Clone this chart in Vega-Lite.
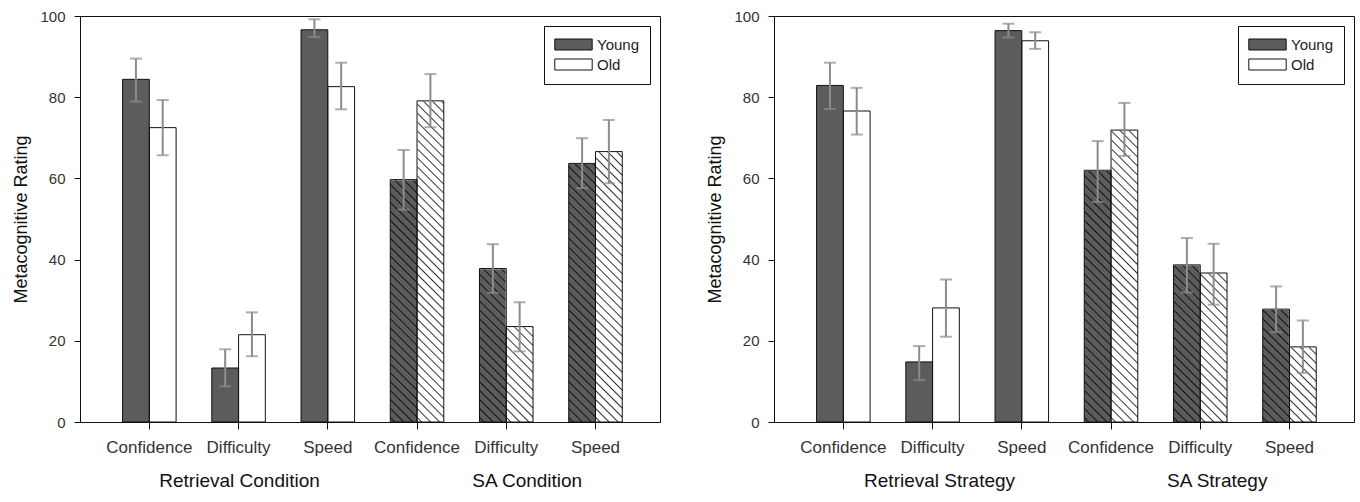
{
  "$schema": "https://vega.github.io/schema/vega-lite/v6.json",
  "padding": {"left": 12, "top": 8, "right": 5, "bottom": 0},
  "spacing": 45,
  "datasets": {
    "condition": [
      {"set": "R", "cat": "Retrieval Condition|Confidence", "age": "Young", "mean": 84.4, "lo": 78.9, "hi": 89.5},
      {"set": "R", "cat": "Retrieval Condition|Confidence", "age": "Old", "mean": 72.5, "lo": 65.7, "hi": 79.3},
      {"set": "R", "cat": "Retrieval Condition|Difficulty", "age": "Young", "mean": 13.3, "lo": 8.8, "hi": 17.9},
      {"set": "R", "cat": "Retrieval Condition|Difficulty", "age": "Old", "mean": 21.5, "lo": 16.2, "hi": 27.0},
      {"set": "R", "cat": "Retrieval Condition|Speed", "age": "Young", "mean": 96.6, "lo": 94.8, "hi": 99.2},
      {"set": "R", "cat": "Retrieval Condition|Speed", "age": "Old", "mean": 82.6, "lo": 77.0, "hi": 88.5},
      {"set": "SA", "cat": "SA Condition|Confidence", "age": "Young", "mean": 59.7, "lo": 52.3, "hi": 67.0},
      {"set": "SA", "cat": "SA Condition|Confidence", "age": "Old", "mean": 79.1, "lo": 72.6, "hi": 85.7},
      {"set": "SA", "cat": "SA Condition|Difficulty", "age": "Young", "mean": 37.8, "lo": 31.8, "hi": 43.8},
      {"set": "SA", "cat": "SA Condition|Difficulty", "age": "Old", "mean": 23.5, "lo": 17.4, "hi": 29.5},
      {"set": "SA", "cat": "SA Condition|Speed", "age": "Young", "mean": 63.7, "lo": 57.6, "hi": 69.9},
      {"set": "SA", "cat": "SA Condition|Speed", "age": "Old", "mean": 66.6, "lo": 58.8, "hi": 74.4}
    ],
    "strategy": [
      {"set": "R", "cat": "Retrieval Strategy|Confidence", "age": "Young", "mean": 82.9, "lo": 77.1, "hi": 88.5},
      {"set": "R", "cat": "Retrieval Strategy|Confidence", "age": "Old", "mean": 76.6, "lo": 70.8, "hi": 82.3},
      {"set": "R", "cat": "Retrieval Strategy|Difficulty", "age": "Young", "mean": 14.8, "lo": 10.3, "hi": 18.7},
      {"set": "R", "cat": "Retrieval Strategy|Difficulty", "age": "Old", "mean": 28.1, "lo": 21.0, "hi": 35.1},
      {"set": "R", "cat": "Retrieval Strategy|Speed", "age": "Young", "mean": 96.4, "lo": 94.7, "hi": 98.1},
      {"set": "R", "cat": "Retrieval Strategy|Speed", "age": "Old", "mean": 93.9, "lo": 91.9, "hi": 96.0},
      {"set": "SA", "cat": "SA Strategy|Confidence", "age": "Young", "mean": 62.0, "lo": 54.2, "hi": 69.2},
      {"set": "SA", "cat": "SA Strategy|Confidence", "age": "Old", "mean": 71.9, "lo": 65.5, "hi": 78.6},
      {"set": "SA", "cat": "SA Strategy|Difficulty", "age": "Young", "mean": 38.7, "lo": 31.9, "hi": 45.3},
      {"set": "SA", "cat": "SA Strategy|Difficulty", "age": "Old", "mean": 36.7, "lo": 28.9, "hi": 43.9},
      {"set": "SA", "cat": "SA Strategy|Speed", "age": "Young", "mean": 27.8, "lo": 22.1, "hi": 33.4},
      {"set": "SA", "cat": "SA Strategy|Speed", "age": "Old", "mean": 18.5, "lo": 12.1, "hi": 25.0}
    ]
  },
  "hconcat": [
    {
      "data": {"name": "condition"},
      "width": 580,
      "height": 406,
      "encoding": {
        "x": {"field": "cat", "type": "nominal", "sort": ["Retrieval Condition|Confidence", "Retrieval Condition|Difficulty", "Retrieval Condition|Speed", "SA Condition|Confidence", "SA Condition|Difficulty", "SA Condition|Speed"], "scale": {"paddingInner": 0.4, "paddingOuter": 0.45, "align": 0.53}, "axis": null},
        "xOffset": {"field": "age", "type": "nominal", "sort": ["Young", "Old"], "scale": {"paddingInner": 0, "paddingOuter": 0}}
      },
      "layer": [
        {
          "mark": {"type": "bar", "strokeWidth": 0},
          "encoding": {
            "x": {"field": "cat", "type": "nominal", "sort": ["Retrieval Condition|Confidence", "Retrieval Condition|Difficulty", "Retrieval Condition|Speed", "SA Condition|Confidence", "SA Condition|Difficulty", "SA Condition|Speed"], "scale": {"paddingInner": 0.4, "paddingOuter": 0.45, "align": 0.53},
              "axis": {"orient": "bottom", "title": null, "labelExpr": "split(datum.value, '|')[1]", "labelAngle": 0, "labelFontSize": 17, "labelColor": "#333", "labelPadding": 10, "tickSize": 7, "domainColor": "#111", "tickColor": "#111"}},
            "y": {"field": "mean", "type": "quantitative", "scale": {"domain": [0, 100], "nice": false},
              "axis": {"title": "Metacognitive Rating", "values": [0, 20, 40, 60, 80, 100], "labelFontSize": 15, "labelColor": "#333", "labelPadding": 9, "tickSize": 6, "domainColor": "#111", "tickColor": "#111", "titleFontSize": 18, "titleFontWeight": "normal", "titleColor": "#111", "titlePadding": 9}},
            "fill": {"field": "age", "type": "nominal", "sort": ["Young", "Old"], "scale": {"domain": ["Young", "Old"], "range": ["#5c5c5c", "#ffffff"]},
              "legend": {"title": "\u2002", "titleOrient": "right", "titlePadding": 0, "titleFontSize": 15, "orient": "top-right", "offset": 10, "padding": 11, "strokeColor": "#111", "fillColor": "white", "symbolType": "M-3.4,-1H3.4V1H-3.4Z", "symbolSize": 121, "symbolStrokeColor": "#111", "symbolStrokeWidth": 1, "symbolOpacity": 1, "symbolOffset": 11, "labelOffset": 16, "labelFontSize": 15, "labelColor": "#222", "rowPadding": 4}}
          }
        },
        {
          "transform": [{"filter": "datum.set === 'SA'"}],
          "mark": {"type": "bar", "strokeWidth": 0, "fill": {
            "gradient": "linear", "x1": 1, "y1": 0, "x2": 0.93, "y2": 1.061,
            "stops": [
              {"offset": 0.0071, "color": "rgba(0,0,0,0)"}, {"offset": 0.0104, "color": "rgba(0,0,0,0.8)"}, {"offset": 0.0137, "color": "rgba(0,0,0,0)"},
              {"offset": 0.0280, "color": "rgba(0,0,0,0)"}, {"offset": 0.0313, "color": "rgba(0,0,0,0.8)"}, {"offset": 0.0346, "color": "rgba(0,0,0,0)"},
              {"offset": 0.0488, "color": "rgba(0,0,0,0)"}, {"offset": 0.0521, "color": "rgba(0,0,0,0.8)"}, {"offset": 0.0554, "color": "rgba(0,0,0,0)"},
              {"offset": 0.0696, "color": "rgba(0,0,0,0)"}, {"offset": 0.0729, "color": "rgba(0,0,0,0.8)"}, {"offset": 0.0762, "color": "rgba(0,0,0,0)"},
              {"offset": 0.0905, "color": "rgba(0,0,0,0)"}, {"offset": 0.0938, "color": "rgba(0,0,0,0.8)"}, {"offset": 0.0971, "color": "rgba(0,0,0,0)"},
              {"offset": 0.1113, "color": "rgba(0,0,0,0)"}, {"offset": 0.1146, "color": "rgba(0,0,0,0.8)"}, {"offset": 0.1179, "color": "rgba(0,0,0,0)"},
              {"offset": 0.1321, "color": "rgba(0,0,0,0)"}, {"offset": 0.1354, "color": "rgba(0,0,0,0.8)"}, {"offset": 0.1387, "color": "rgba(0,0,0,0)"},
              {"offset": 0.1530, "color": "rgba(0,0,0,0)"}, {"offset": 0.1563, "color": "rgba(0,0,0,0.8)"}, {"offset": 0.1596, "color": "rgba(0,0,0,0)"},
              {"offset": 0.1738, "color": "rgba(0,0,0,0)"}, {"offset": 0.1771, "color": "rgba(0,0,0,0.8)"}, {"offset": 0.1804, "color": "rgba(0,0,0,0)"},
              {"offset": 0.1946, "color": "rgba(0,0,0,0)"}, {"offset": 0.1979, "color": "rgba(0,0,0,0.8)"}, {"offset": 0.2012, "color": "rgba(0,0,0,0)"},
              {"offset": 0.2155, "color": "rgba(0,0,0,0)"}, {"offset": 0.2188, "color": "rgba(0,0,0,0.8)"}, {"offset": 0.2221, "color": "rgba(0,0,0,0)"},
              {"offset": 0.2363, "color": "rgba(0,0,0,0)"}, {"offset": 0.2396, "color": "rgba(0,0,0,0.8)"}, {"offset": 0.2429, "color": "rgba(0,0,0,0)"},
              {"offset": 0.2571, "color": "rgba(0,0,0,0)"}, {"offset": 0.2604, "color": "rgba(0,0,0,0.8)"}, {"offset": 0.2637, "color": "rgba(0,0,0,0)"},
              {"offset": 0.2780, "color": "rgba(0,0,0,0)"}, {"offset": 0.2813, "color": "rgba(0,0,0,0.8)"}, {"offset": 0.2846, "color": "rgba(0,0,0,0)"},
              {"offset": 0.2988, "color": "rgba(0,0,0,0)"}, {"offset": 0.3021, "color": "rgba(0,0,0,0.8)"}, {"offset": 0.3054, "color": "rgba(0,0,0,0)"},
              {"offset": 0.3196, "color": "rgba(0,0,0,0)"}, {"offset": 0.3229, "color": "rgba(0,0,0,0.8)"}, {"offset": 0.3262, "color": "rgba(0,0,0,0)"},
              {"offset": 0.3405, "color": "rgba(0,0,0,0)"}, {"offset": 0.3438, "color": "rgba(0,0,0,0.8)"}, {"offset": 0.3471, "color": "rgba(0,0,0,0)"},
              {"offset": 0.3613, "color": "rgba(0,0,0,0)"}, {"offset": 0.3646, "color": "rgba(0,0,0,0.8)"}, {"offset": 0.3679, "color": "rgba(0,0,0,0)"},
              {"offset": 0.3821, "color": "rgba(0,0,0,0)"}, {"offset": 0.3854, "color": "rgba(0,0,0,0.8)"}, {"offset": 0.3887, "color": "rgba(0,0,0,0)"},
              {"offset": 0.4030, "color": "rgba(0,0,0,0)"}, {"offset": 0.4063, "color": "rgba(0,0,0,0.8)"}, {"offset": 0.4096, "color": "rgba(0,0,0,0)"},
              {"offset": 0.4238, "color": "rgba(0,0,0,0)"}, {"offset": 0.4271, "color": "rgba(0,0,0,0.8)"}, {"offset": 0.4304, "color": "rgba(0,0,0,0)"},
              {"offset": 0.4446, "color": "rgba(0,0,0,0)"}, {"offset": 0.4479, "color": "rgba(0,0,0,0.8)"}, {"offset": 0.4512, "color": "rgba(0,0,0,0)"},
              {"offset": 0.4655, "color": "rgba(0,0,0,0)"}, {"offset": 0.4688, "color": "rgba(0,0,0,0.8)"}, {"offset": 0.4721, "color": "rgba(0,0,0,0)"},
              {"offset": 0.4863, "color": "rgba(0,0,0,0)"}, {"offset": 0.4896, "color": "rgba(0,0,0,0.8)"}, {"offset": 0.4929, "color": "rgba(0,0,0,0)"},
              {"offset": 0.5071, "color": "rgba(0,0,0,0)"}, {"offset": 0.5104, "color": "rgba(0,0,0,0.8)"}, {"offset": 0.5137, "color": "rgba(0,0,0,0)"},
              {"offset": 0.5280, "color": "rgba(0,0,0,0)"}, {"offset": 0.5313, "color": "rgba(0,0,0,0.8)"}, {"offset": 0.5346, "color": "rgba(0,0,0,0)"},
              {"offset": 0.5488, "color": "rgba(0,0,0,0)"}, {"offset": 0.5521, "color": "rgba(0,0,0,0.8)"}, {"offset": 0.5554, "color": "rgba(0,0,0,0)"},
              {"offset": 0.5696, "color": "rgba(0,0,0,0)"}, {"offset": 0.5729, "color": "rgba(0,0,0,0.8)"}, {"offset": 0.5762, "color": "rgba(0,0,0,0)"},
              {"offset": 0.5905, "color": "rgba(0,0,0,0)"}, {"offset": 0.5938, "color": "rgba(0,0,0,0.8)"}, {"offset": 0.5971, "color": "rgba(0,0,0,0)"},
              {"offset": 0.6113, "color": "rgba(0,0,0,0)"}, {"offset": 0.6146, "color": "rgba(0,0,0,0.8)"}, {"offset": 0.6179, "color": "rgba(0,0,0,0)"},
              {"offset": 0.6321, "color": "rgba(0,0,0,0)"}, {"offset": 0.6354, "color": "rgba(0,0,0,0.8)"}, {"offset": 0.6387, "color": "rgba(0,0,0,0)"},
              {"offset": 0.6530, "color": "rgba(0,0,0,0)"}, {"offset": 0.6563, "color": "rgba(0,0,0,0.8)"}, {"offset": 0.6596, "color": "rgba(0,0,0,0)"},
              {"offset": 0.6738, "color": "rgba(0,0,0,0)"}, {"offset": 0.6771, "color": "rgba(0,0,0,0.8)"}, {"offset": 0.6804, "color": "rgba(0,0,0,0)"},
              {"offset": 0.6946, "color": "rgba(0,0,0,0)"}, {"offset": 0.6979, "color": "rgba(0,0,0,0.8)"}, {"offset": 0.7012, "color": "rgba(0,0,0,0)"},
              {"offset": 0.7155, "color": "rgba(0,0,0,0)"}, {"offset": 0.7188, "color": "rgba(0,0,0,0.8)"}, {"offset": 0.7221, "color": "rgba(0,0,0,0)"},
              {"offset": 0.7363, "color": "rgba(0,0,0,0)"}, {"offset": 0.7396, "color": "rgba(0,0,0,0.8)"}, {"offset": 0.7429, "color": "rgba(0,0,0,0)"},
              {"offset": 0.7571, "color": "rgba(0,0,0,0)"}, {"offset": 0.7604, "color": "rgba(0,0,0,0.8)"}, {"offset": 0.7637, "color": "rgba(0,0,0,0)"},
              {"offset": 0.7780, "color": "rgba(0,0,0,0)"}, {"offset": 0.7813, "color": "rgba(0,0,0,0.8)"}, {"offset": 0.7846, "color": "rgba(0,0,0,0)"},
              {"offset": 0.7988, "color": "rgba(0,0,0,0)"}, {"offset": 0.8021, "color": "rgba(0,0,0,0.8)"}, {"offset": 0.8054, "color": "rgba(0,0,0,0)"},
              {"offset": 0.8196, "color": "rgba(0,0,0,0)"}, {"offset": 0.8229, "color": "rgba(0,0,0,0.8)"}, {"offset": 0.8262, "color": "rgba(0,0,0,0)"},
              {"offset": 0.8405, "color": "rgba(0,0,0,0)"}, {"offset": 0.8438, "color": "rgba(0,0,0,0.8)"}, {"offset": 0.8471, "color": "rgba(0,0,0,0)"},
              {"offset": 0.8613, "color": "rgba(0,0,0,0)"}, {"offset": 0.8646, "color": "rgba(0,0,0,0.8)"}, {"offset": 0.8679, "color": "rgba(0,0,0,0)"},
              {"offset": 0.8821, "color": "rgba(0,0,0,0)"}, {"offset": 0.8854, "color": "rgba(0,0,0,0.8)"}, {"offset": 0.8887, "color": "rgba(0,0,0,0)"},
              {"offset": 0.9030, "color": "rgba(0,0,0,0)"}, {"offset": 0.9063, "color": "rgba(0,0,0,0.8)"}, {"offset": 0.9096, "color": "rgba(0,0,0,0)"},
              {"offset": 0.9238, "color": "rgba(0,0,0,0)"}, {"offset": 0.9271, "color": "rgba(0,0,0,0.8)"}, {"offset": 0.9304, "color": "rgba(0,0,0,0)"},
              {"offset": 0.9446, "color": "rgba(0,0,0,0)"}, {"offset": 0.9479, "color": "rgba(0,0,0,0.8)"}, {"offset": 0.9512, "color": "rgba(0,0,0,0)"},
              {"offset": 0.9655, "color": "rgba(0,0,0,0)"}, {"offset": 0.9688, "color": "rgba(0,0,0,0.8)"}, {"offset": 0.9721, "color": "rgba(0,0,0,0)"},
              {"offset": 0.9863, "color": "rgba(0,0,0,0)"}, {"offset": 0.9896, "color": "rgba(0,0,0,0.8)"}, {"offset": 0.9929, "color": "rgba(0,0,0,0)"}
            ]}},
          "encoding": {"y": {"datum": 99.4, "type": "quantitative"}, "y2": {"datum": 0}}
        },
        {
          "transform": [{"filter": "datum.set === 'SA'"}],
          "mark": {"type": "bar", "fill": "white", "stroke": "white", "strokeWidth": 1.2},
          "encoding": {"y": {"field": "mean", "type": "quantitative"}, "y2": {"datum": 99.4}}
        },
        {
          "mark": {"type": "bar", "fillOpacity": 0, "stroke": "#111", "strokeWidth": 1},
          "encoding": {"y": {"field": "mean", "type": "quantitative"}}
        },
        {
          "mark": {"type": "rule", "color": "#8c8c8c", "strokeWidth": 2},
          "encoding": {
            "x": {"field": "cat", "type": "nominal", "sort": ["Retrieval Condition|Confidence", "Retrieval Condition|Difficulty", "Retrieval Condition|Speed", "SA Condition|Confidence", "SA Condition|Difficulty", "SA Condition|Speed"], "scale": {"paddingInner": 0.4, "paddingOuter": 0.45, "align": 0.53},
              "axis": {"orient": "bottom", "title": null, "domain": false, "ticks": false, "labelExpr": "split(datum.value, '|')[1] === 'Difficulty' ? split(datum.value, '|')[0] : ''", "labelAngle": 0, "labelFontSize": 19, "labelColor": "#111", "labelPadding": 49, "labelOverlap": false, "labelBound": false, "labelLimit": 0, "labelOffset": {"condition": {"test": "indexof(datum.value, 'SA') === 0", "value": 21}, "value": 1}}},
            "y": {"field": "lo", "type": "quantitative"},
            "y2": {"field": "hi"}
          }
        },
        {
          "mark": {"type": "tick", "color": "#8c8c8c", "thickness": 2, "size": 12},
          "encoding": {"y": {"field": "lo", "type": "quantitative"}}
        },
        {
          "mark": {"type": "tick", "color": "#8c8c8c", "thickness": 2, "size": 12},
          "encoding": {"y": {"field": "hi", "type": "quantitative"}}
        }
      ],
      "resolve": {"axis": {"x": "independent"}}
    },
    {
      "data": {"name": "strategy"},
      "width": 580,
      "height": 406,
      "encoding": {
        "x": {"field": "cat", "type": "nominal", "sort": ["Retrieval Strategy|Confidence", "Retrieval Strategy|Difficulty", "Retrieval Strategy|Speed", "SA Strategy|Confidence", "SA Strategy|Difficulty", "SA Strategy|Speed"], "scale": {"paddingInner": 0.4, "paddingOuter": 0.45, "align": 0.53}, "axis": null},
        "xOffset": {"field": "age", "type": "nominal", "sort": ["Young", "Old"], "scale": {"paddingInner": 0, "paddingOuter": 0}}
      },
      "layer": [
        {
          "mark": {"type": "bar", "strokeWidth": 0},
          "encoding": {
            "x": {"field": "cat", "type": "nominal", "sort": ["Retrieval Strategy|Confidence", "Retrieval Strategy|Difficulty", "Retrieval Strategy|Speed", "SA Strategy|Confidence", "SA Strategy|Difficulty", "SA Strategy|Speed"], "scale": {"paddingInner": 0.4, "paddingOuter": 0.45, "align": 0.53},
              "axis": {"orient": "bottom", "title": null, "labelExpr": "split(datum.value, '|')[1]", "labelAngle": 0, "labelFontSize": 17, "labelColor": "#333", "labelPadding": 10, "tickSize": 7, "domainColor": "#111", "tickColor": "#111"}},
            "y": {"field": "mean", "type": "quantitative", "scale": {"domain": [0, 100], "nice": false},
              "axis": {"title": "Metacognitive Rating", "values": [0, 20, 40, 60, 80, 100], "labelFontSize": 15, "labelColor": "#333", "labelPadding": 9, "tickSize": 6, "domainColor": "#111", "tickColor": "#111", "titleFontSize": 18, "titleFontWeight": "normal", "titleColor": "#111", "titlePadding": 9}},
            "fill": {"field": "age", "type": "nominal", "sort": ["Young", "Old"], "scale": {"domain": ["Young", "Old"], "range": ["#5c5c5c", "#ffffff"]},
              "legend": {"title": "\u2002", "titleOrient": "right", "titlePadding": 0, "titleFontSize": 15, "orient": "top-right", "offset": 10, "padding": 11, "strokeColor": "#111", "fillColor": "white", "symbolType": "M-3.4,-1H3.4V1H-3.4Z", "symbolSize": 121, "symbolStrokeColor": "#111", "symbolStrokeWidth": 1, "symbolOpacity": 1, "symbolOffset": 11, "labelOffset": 16, "labelFontSize": 15, "labelColor": "#222", "rowPadding": 4}}
          }
        },
        {
          "transform": [{"filter": "datum.set === 'SA'"}],
          "mark": {"type": "bar", "strokeWidth": 0, "fill": {
            "gradient": "linear", "x1": 1, "y1": 0, "x2": 0.93, "y2": 1.061,
            "stops": [
              {"offset": 0.0071, "color": "rgba(0,0,0,0)"}, {"offset": 0.0104, "color": "rgba(0,0,0,0.8)"}, {"offset": 0.0137, "color": "rgba(0,0,0,0)"},
              {"offset": 0.0280, "color": "rgba(0,0,0,0)"}, {"offset": 0.0313, "color": "rgba(0,0,0,0.8)"}, {"offset": 0.0346, "color": "rgba(0,0,0,0)"},
              {"offset": 0.0488, "color": "rgba(0,0,0,0)"}, {"offset": 0.0521, "color": "rgba(0,0,0,0.8)"}, {"offset": 0.0554, "color": "rgba(0,0,0,0)"},
              {"offset": 0.0696, "color": "rgba(0,0,0,0)"}, {"offset": 0.0729, "color": "rgba(0,0,0,0.8)"}, {"offset": 0.0762, "color": "rgba(0,0,0,0)"},
              {"offset": 0.0905, "color": "rgba(0,0,0,0)"}, {"offset": 0.0938, "color": "rgba(0,0,0,0.8)"}, {"offset": 0.0971, "color": "rgba(0,0,0,0)"},
              {"offset": 0.1113, "color": "rgba(0,0,0,0)"}, {"offset": 0.1146, "color": "rgba(0,0,0,0.8)"}, {"offset": 0.1179, "color": "rgba(0,0,0,0)"},
              {"offset": 0.1321, "color": "rgba(0,0,0,0)"}, {"offset": 0.1354, "color": "rgba(0,0,0,0.8)"}, {"offset": 0.1387, "color": "rgba(0,0,0,0)"},
              {"offset": 0.1530, "color": "rgba(0,0,0,0)"}, {"offset": 0.1563, "color": "rgba(0,0,0,0.8)"}, {"offset": 0.1596, "color": "rgba(0,0,0,0)"},
              {"offset": 0.1738, "color": "rgba(0,0,0,0)"}, {"offset": 0.1771, "color": "rgba(0,0,0,0.8)"}, {"offset": 0.1804, "color": "rgba(0,0,0,0)"},
              {"offset": 0.1946, "color": "rgba(0,0,0,0)"}, {"offset": 0.1979, "color": "rgba(0,0,0,0.8)"}, {"offset": 0.2012, "color": "rgba(0,0,0,0)"},
              {"offset": 0.2155, "color": "rgba(0,0,0,0)"}, {"offset": 0.2188, "color": "rgba(0,0,0,0.8)"}, {"offset": 0.2221, "color": "rgba(0,0,0,0)"},
              {"offset": 0.2363, "color": "rgba(0,0,0,0)"}, {"offset": 0.2396, "color": "rgba(0,0,0,0.8)"}, {"offset": 0.2429, "color": "rgba(0,0,0,0)"},
              {"offset": 0.2571, "color": "rgba(0,0,0,0)"}, {"offset": 0.2604, "color": "rgba(0,0,0,0.8)"}, {"offset": 0.2637, "color": "rgba(0,0,0,0)"},
              {"offset": 0.2780, "color": "rgba(0,0,0,0)"}, {"offset": 0.2813, "color": "rgba(0,0,0,0.8)"}, {"offset": 0.2846, "color": "rgba(0,0,0,0)"},
              {"offset": 0.2988, "color": "rgba(0,0,0,0)"}, {"offset": 0.3021, "color": "rgba(0,0,0,0.8)"}, {"offset": 0.3054, "color": "rgba(0,0,0,0)"},
              {"offset": 0.3196, "color": "rgba(0,0,0,0)"}, {"offset": 0.3229, "color": "rgba(0,0,0,0.8)"}, {"offset": 0.3262, "color": "rgba(0,0,0,0)"},
              {"offset": 0.3405, "color": "rgba(0,0,0,0)"}, {"offset": 0.3438, "color": "rgba(0,0,0,0.8)"}, {"offset": 0.3471, "color": "rgba(0,0,0,0)"},
              {"offset": 0.3613, "color": "rgba(0,0,0,0)"}, {"offset": 0.3646, "color": "rgba(0,0,0,0.8)"}, {"offset": 0.3679, "color": "rgba(0,0,0,0)"},
              {"offset": 0.3821, "color": "rgba(0,0,0,0)"}, {"offset": 0.3854, "color": "rgba(0,0,0,0.8)"}, {"offset": 0.3887, "color": "rgba(0,0,0,0)"},
              {"offset": 0.4030, "color": "rgba(0,0,0,0)"}, {"offset": 0.4063, "color": "rgba(0,0,0,0.8)"}, {"offset": 0.4096, "color": "rgba(0,0,0,0)"},
              {"offset": 0.4238, "color": "rgba(0,0,0,0)"}, {"offset": 0.4271, "color": "rgba(0,0,0,0.8)"}, {"offset": 0.4304, "color": "rgba(0,0,0,0)"},
              {"offset": 0.4446, "color": "rgba(0,0,0,0)"}, {"offset": 0.4479, "color": "rgba(0,0,0,0.8)"}, {"offset": 0.4512, "color": "rgba(0,0,0,0)"},
              {"offset": 0.4655, "color": "rgba(0,0,0,0)"}, {"offset": 0.4688, "color": "rgba(0,0,0,0.8)"}, {"offset": 0.4721, "color": "rgba(0,0,0,0)"},
              {"offset": 0.4863, "color": "rgba(0,0,0,0)"}, {"offset": 0.4896, "color": "rgba(0,0,0,0.8)"}, {"offset": 0.4929, "color": "rgba(0,0,0,0)"},
              {"offset": 0.5071, "color": "rgba(0,0,0,0)"}, {"offset": 0.5104, "color": "rgba(0,0,0,0.8)"}, {"offset": 0.5137, "color": "rgba(0,0,0,0)"},
              {"offset": 0.5280, "color": "rgba(0,0,0,0)"}, {"offset": 0.5313, "color": "rgba(0,0,0,0.8)"}, {"offset": 0.5346, "color": "rgba(0,0,0,0)"},
              {"offset": 0.5488, "color": "rgba(0,0,0,0)"}, {"offset": 0.5521, "color": "rgba(0,0,0,0.8)"}, {"offset": 0.5554, "color": "rgba(0,0,0,0)"},
              {"offset": 0.5696, "color": "rgba(0,0,0,0)"}, {"offset": 0.5729, "color": "rgba(0,0,0,0.8)"}, {"offset": 0.5762, "color": "rgba(0,0,0,0)"},
              {"offset": 0.5905, "color": "rgba(0,0,0,0)"}, {"offset": 0.5938, "color": "rgba(0,0,0,0.8)"}, {"offset": 0.5971, "color": "rgba(0,0,0,0)"},
              {"offset": 0.6113, "color": "rgba(0,0,0,0)"}, {"offset": 0.6146, "color": "rgba(0,0,0,0.8)"}, {"offset": 0.6179, "color": "rgba(0,0,0,0)"},
              {"offset": 0.6321, "color": "rgba(0,0,0,0)"}, {"offset": 0.6354, "color": "rgba(0,0,0,0.8)"}, {"offset": 0.6387, "color": "rgba(0,0,0,0)"},
              {"offset": 0.6530, "color": "rgba(0,0,0,0)"}, {"offset": 0.6563, "color": "rgba(0,0,0,0.8)"}, {"offset": 0.6596, "color": "rgba(0,0,0,0)"},
              {"offset": 0.6738, "color": "rgba(0,0,0,0)"}, {"offset": 0.6771, "color": "rgba(0,0,0,0.8)"}, {"offset": 0.6804, "color": "rgba(0,0,0,0)"},
              {"offset": 0.6946, "color": "rgba(0,0,0,0)"}, {"offset": 0.6979, "color": "rgba(0,0,0,0.8)"}, {"offset": 0.7012, "color": "rgba(0,0,0,0)"},
              {"offset": 0.7155, "color": "rgba(0,0,0,0)"}, {"offset": 0.7188, "color": "rgba(0,0,0,0.8)"}, {"offset": 0.7221, "color": "rgba(0,0,0,0)"},
              {"offset": 0.7363, "color": "rgba(0,0,0,0)"}, {"offset": 0.7396, "color": "rgba(0,0,0,0.8)"}, {"offset": 0.7429, "color": "rgba(0,0,0,0)"},
              {"offset": 0.7571, "color": "rgba(0,0,0,0)"}, {"offset": 0.7604, "color": "rgba(0,0,0,0.8)"}, {"offset": 0.7637, "color": "rgba(0,0,0,0)"},
              {"offset": 0.7780, "color": "rgba(0,0,0,0)"}, {"offset": 0.7813, "color": "rgba(0,0,0,0.8)"}, {"offset": 0.7846, "color": "rgba(0,0,0,0)"},
              {"offset": 0.7988, "color": "rgba(0,0,0,0)"}, {"offset": 0.8021, "color": "rgba(0,0,0,0.8)"}, {"offset": 0.8054, "color": "rgba(0,0,0,0)"},
              {"offset": 0.8196, "color": "rgba(0,0,0,0)"}, {"offset": 0.8229, "color": "rgba(0,0,0,0.8)"}, {"offset": 0.8262, "color": "rgba(0,0,0,0)"},
              {"offset": 0.8405, "color": "rgba(0,0,0,0)"}, {"offset": 0.8438, "color": "rgba(0,0,0,0.8)"}, {"offset": 0.8471, "color": "rgba(0,0,0,0)"},
              {"offset": 0.8613, "color": "rgba(0,0,0,0)"}, {"offset": 0.8646, "color": "rgba(0,0,0,0.8)"}, {"offset": 0.8679, "color": "rgba(0,0,0,0)"},
              {"offset": 0.8821, "color": "rgba(0,0,0,0)"}, {"offset": 0.8854, "color": "rgba(0,0,0,0.8)"}, {"offset": 0.8887, "color": "rgba(0,0,0,0)"},
              {"offset": 0.9030, "color": "rgba(0,0,0,0)"}, {"offset": 0.9063, "color": "rgba(0,0,0,0.8)"}, {"offset": 0.9096, "color": "rgba(0,0,0,0)"},
              {"offset": 0.9238, "color": "rgba(0,0,0,0)"}, {"offset": 0.9271, "color": "rgba(0,0,0,0.8)"}, {"offset": 0.9304, "color": "rgba(0,0,0,0)"},
              {"offset": 0.9446, "color": "rgba(0,0,0,0)"}, {"offset": 0.9479, "color": "rgba(0,0,0,0.8)"}, {"offset": 0.9512, "color": "rgba(0,0,0,0)"},
              {"offset": 0.9655, "color": "rgba(0,0,0,0)"}, {"offset": 0.9688, "color": "rgba(0,0,0,0.8)"}, {"offset": 0.9721, "color": "rgba(0,0,0,0)"},
              {"offset": 0.9863, "color": "rgba(0,0,0,0)"}, {"offset": 0.9896, "color": "rgba(0,0,0,0.8)"}, {"offset": 0.9929, "color": "rgba(0,0,0,0)"}
            ]}},
          "encoding": {"y": {"datum": 99.4, "type": "quantitative"}, "y2": {"datum": 0}}
        },
        {
          "transform": [{"filter": "datum.set === 'SA'"}],
          "mark": {"type": "bar", "fill": "white", "stroke": "white", "strokeWidth": 1.2},
          "encoding": {"y": {"field": "mean", "type": "quantitative"}, "y2": {"datum": 99.4}}
        },
        {
          "mark": {"type": "bar", "fillOpacity": 0, "stroke": "#111", "strokeWidth": 1},
          "encoding": {"y": {"field": "mean", "type": "quantitative"}}
        },
        {
          "mark": {"type": "rule", "color": "#8c8c8c", "strokeWidth": 2},
          "encoding": {
            "x": {"field": "cat", "type": "nominal", "sort": ["Retrieval Strategy|Confidence", "Retrieval Strategy|Difficulty", "Retrieval Strategy|Speed", "SA Strategy|Confidence", "SA Strategy|Difficulty", "SA Strategy|Speed"], "scale": {"paddingInner": 0.4, "paddingOuter": 0.45, "align": 0.53},
              "axis": {"orient": "bottom", "title": null, "domain": false, "ticks": false, "labelExpr": "split(datum.value, '|')[1] === 'Difficulty' ? split(datum.value, '|')[0] : ''", "labelAngle": 0, "labelFontSize": 19, "labelColor": "#111", "labelPadding": 49, "labelOverlap": false, "labelBound": false, "labelLimit": 0, "labelOffset": {"condition": {"test": "indexof(datum.value, 'SA') === 0", "value": 17}, "value": 7}}},
            "y": {"field": "lo", "type": "quantitative"},
            "y2": {"field": "hi"}
          }
        },
        {
          "mark": {"type": "tick", "color": "#8c8c8c", "thickness": 2, "size": 12},
          "encoding": {"y": {"field": "lo", "type": "quantitative"}}
        },
        {
          "mark": {"type": "tick", "color": "#8c8c8c", "thickness": 2, "size": 12},
          "encoding": {"y": {"field": "hi", "type": "quantitative"}}
        }
      ],
      "resolve": {"axis": {"x": "independent"}}
    }
  ],
  "resolve": {"scale": {"fill": "independent"}, "legend": {"fill": "independent"}},
  "config": {
    "font": "Liberation Sans",
    "view": {"stroke": "#111", "strokeWidth": 1},
    "axis": {"grid": false, "labelFont": "Liberation Sans", "titleFont": "Liberation Sans"},
    "legend": {"labelFont": "Liberation Sans"}
  }
}
